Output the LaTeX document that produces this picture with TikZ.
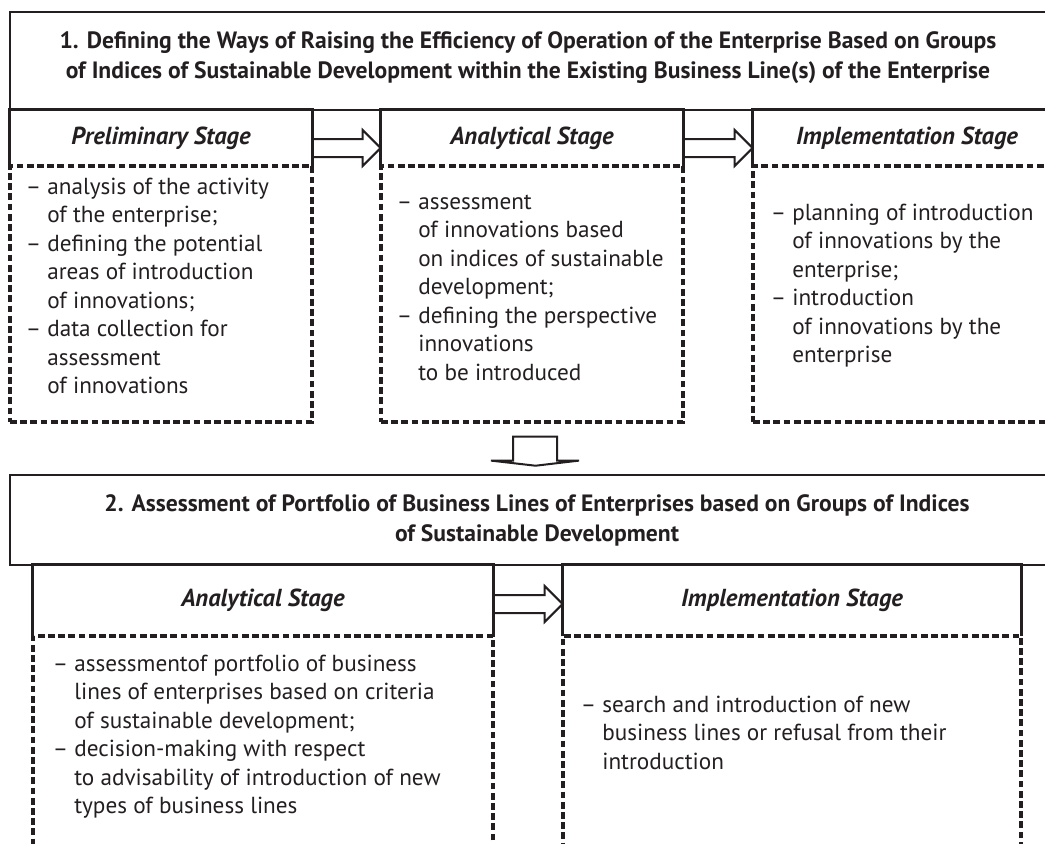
\documentclass[tikz,border=0pt]{standalone}
\usepackage{fontspec}
\setmainfont{PT Sans}
\usetikzlibrary{positioning,fit,calc}
\definecolor{ink}{RGB}{35,31,32}

\newcommand{\ind}{\hphantom{– }}
\newcommand{\stagearrow}[3]{%
  \draw[hollow] ($(#1.east)+(0,#3-9)$) -- ($(#2.west)+(-18,#3-9)$)
    -- ($(#2.west)+(-18,#3-18)$) -- ($(#2.west)+(0,#3)$)
    -- ($(#2.west)+(-18,#3+18)$) -- ($(#2.west)+(-18,#3+9)$)
    -- ($(#1.east)+(0,#3+9)$);}

\begin{document}
\begin{tikzpicture}[x=0.5pt,y=-0.5pt,
  every node/.style={text=ink},
  frame/.style={draw=ink,line width=1.3pt,inner sep=0pt},
  headbox/.style={inner sep=0pt},
  bodybox/.style={draw=ink,line width=1.6pt,dash pattern=on 3.4pt off 1.7pt,inner sep=0pt},
  sideline/.style={draw=ink,line width=1.3pt},
  hollow/.style={draw=ink,fill=white,line width=1pt,line join=miter},
  titletext/.style={align=center,font=\fontsize{11.8}{15}\selectfont\bfseries},
  stagetext/.style={font=\fontsize{12.3}{14}\selectfont\bfseries\itshape},
  itemtext/.style={align=left,anchor=north west,inner sep=0pt,
    font=\fontsize{11.6}{14.25}\selectfont,execute at begin node=\strut}]
\useasboundingbox (0,0) rectangle (1045,843);
\clip (0,0) rectangle (1045,843);

% first block
\node[frame,fit={(10,12)(1061,110)}] (partA) {};
\node[titletext] (partAtxt) at (528,58) {1. Defining the Ways of Raising the Efficiency of Operation of the Enterprise Based on Groups\\of Indices of Sustainable Development within the Existing Business Line(s) of the Enterprise};
\node[headbox,fit={(10,110)(312,166)}] (prelHead) {};
\node[headbox,fit={(381,110)(683,166)}] (anaHead) {};
\node[headbox,fit={(753,110)(1061,166)}] (implHead) {};
\node[bodybox,fit={(10,166)(312,422)}] (prelBody) {};
\node[bodybox,fit={(381,166)(683,422)}] (anaBody) {};
\node[bodybox,fit={(753,166)(1061,422)}] (implBody) {};

\node[stagetext] (prelLbl) at (prelHead.center) {Preliminary Stage};
\node[stagetext] (anaLbl) at (anaHead.center) {Analytical Stage};
\node[stagetext] (implLbl) at (implHead.center) {Implementation Stage};

\node[itemtext] (prelTxt) at ($(prelBody.north west)+(17,13)$) {– analysis of the activity\\
\ind of the enterprise;\\
– defining the potential\\
\ind areas of introduction\\
\ind of innovations;\\
– data collection for\\
\ind assessment\\
\ind of innovations};
\node[itemtext] (anaTxt) at ($(anaBody.north west)+(17,30)$) {– assessment\\
\ind of innovations based\\
\ind on indices of sustainable\\
\ind development;\\
– defining the perspective\\
\ind innovations\\
\ind to be introduced};
\node[itemtext] (implTxt) at ($(implBody.north west)+(19,39)$) {– planning of introduction\\
\ind of innovations by the\\
\ind enterprise;\\
– introduction\\
\ind of innovations by the\\
\ind enterprise};

% second block
\node[frame,fit={(10,475)(1061,565)}] (partB) {};
\node[titletext] (partBtxt) at (537,520) {2. Assessment of Portfolio of Business Lines of Enterprises based on Groups of Indices\\of Sustainable Development};
\node[headbox,fit={(33,565)(493,636)}] (portHead) {};
\node[headbox,fit={(563,565)(1021,636)}] (newHead) {};
\node[bodybox,fit={(33,636)(493,870)}] (portBody) {};
\node[bodybox,fit={(563,636)(1021,870)}] (newBody) {};

\node[stagetext] (portLbl) at (portHead.center) {Analytical Stage};
\node[stagetext] (newLbl) at (newHead.center) {Implementation Stage};

\node[itemtext] (portTxt) at ($(portBody.north west)+(21,20)$) {– assessmentof portfolio of business\\
\ind lines of enterprises based on criteria\\
\ind of sustainable development;\\
– decision-making with respect\\
\ind to advisability of introduction of new\\
\ind types of business lines};
\node[itemtext] (newTxt) at ($(newBody.north west)+(19,61)$) {– search and introduction of new\\
\ind business lines or refusal from their\\
\ind introduction};

% arrows
\stagearrow{prelHead}{anaHead}{10}
\stagearrow{anaHead}{implHead}{10}
\stagearrow{portHead}{newHead}{3.5}
\draw[hollow] ($(anaBody.south)+(-19,13)$) -- ($(anaBody.south)+(25,13)$)
  -- ($(anaBody.south)+(25,37)$) -- ($(anaBody.south)+(47,37)$)
  -- ($(partB.north)+(0,-8)$) -- ($(anaBody.south)+(-41,37)$)
  -- ($(anaBody.south)+(-19,37)$) -- cycle;

\foreach \h in {prelHead,anaHead,implHead,portHead,newHead}
  \draw[sideline] (\h.south west) -- (\h.north west) -- (\h.north east) -- (\h.south east);
\end{tikzpicture}
\end{document}
